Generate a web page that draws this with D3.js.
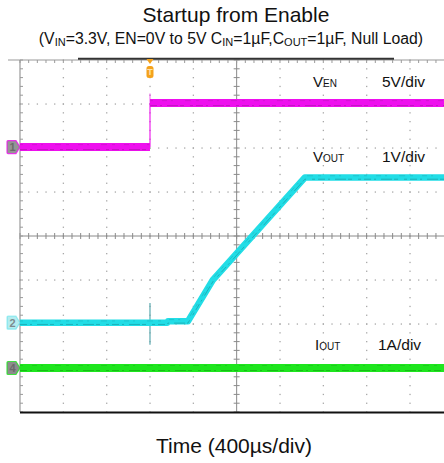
<!DOCTYPE html>
<html><head><meta charset="utf-8">
<script src="https://cdn.jsdelivr.net/npm/d3@7"></script>
<style>
html,body{margin:0;padding:0;background:#fff;}
svg{display:block;font-family:"Liberation Sans",Arial,Helvetica,sans-serif;}
</style></head><body>
<svg id="chart" width="444" height="463"></svg>
<script>
// Horizontal time base: 400 µs per division, trigger at t = 0
const timeDomain = [-1200, 2800];
const timeMajor = [-1200, -800, -400, 0, 400, 800, 1200, 1600, 2000, 2400, 2800];
const divDomain = [-4, 4];
const divMajor = [-4, -3, -2, -1, 0, 1, 2, 3, 4];

// CH1 enable voltage (V), 5 V/div
const enTime = [-1200, 0, 0, 2800];
const enVolt = [0, 0, 5, 5];
const enEdge = [0, 6.1];

// CH2 output voltage (V), 1 V/div
const outTime = [-1200, 160, 165, 350, 580, 1430, 2800];
const outVolt = [0, 0, 0.03, 0.03, 0.97, 3.3, 3.3];
const outGlitch = [0.45, -0.5];

// CH4 output current (A), 1 A/div
const curTime = [-1200, 2800];
const curAmp = [0, 0];

// Channel labels
const chNames = ["1", "2", "4"];
const chScale = [5, 1, 1];
const chGround = [2.02, -1.97, -3.0];
const chColor = ["#ee10ee", "#22dde6", "#1ee61e"];
const chShade = ["#9a189a", "#1a8c94", "#139a13"];

const svg = d3.select("#chart");
const x = d3.scaleLinear().domain(timeDomain).range([20, 453.3]);
const yd = d3.scaleLinear().domain(divDomain).range([412, 60]);
const chY = ch => v => yd(chGround[ch] + v / chScale[ch]);

const minorT = d3.range(timeDomain[0], timeDomain[1] + 1, 80);
const minorD = d3.range(-4, 4.001, 0.2).map(v => +v.toFixed(2));

// ---- graticule ----
const grid = svg.append("g");
const dotCol = "#a8a8a8";
timeMajor.filter(t => t !== timeDomain[0] && t !== 800).forEach(t => {
  grid.selectAll(null).data(minorD).join("rect")
    .attr("x", x(t) - 0.6).attr("y", d => yd(d) - 0.6)
    .attr("width", 1.3).attr("height", 1.3).attr("fill", dotCol);
});
divMajor.filter(d => d !== 0 && Math.abs(d) !== 4).forEach(d => {
  grid.selectAll(null).data(minorT).join("rect")
    .attr("x", t => x(t) - 0.6).attr("y", yd(d) - 0.6)
    .attr("width", 1.3).attr("height", 1.3).attr("fill", dotCol);
});
// centre cross with minor ticks
const axCol = "#8a8a8a";
grid.append("line").attr("x1", x(800)).attr("x2", x(800))
  .attr("y1", yd(4)).attr("y2", yd(-4)).attr("stroke", axCol).attr("stroke-width", 1);
grid.append("line").attr("x1", x(timeDomain[0])).attr("x2", 444)
  .attr("y1", yd(0)).attr("y2", yd(0)).attr("stroke", axCol).attr("stroke-width", 1);
grid.selectAll(null).data(minorD).join("line")
  .attr("x1", x(800) - 3).attr("x2", x(800) + 3)
  .attr("y1", d => yd(d)).attr("y2", d => yd(d)).attr("stroke", axCol);
grid.selectAll(null).data(minorT).join("line")
  .attr("x1", t => x(t)).attr("x2", t => x(t))
  .attr("y1", yd(0) - 3).attr("y2", yd(0) + 3).attr("stroke", axCol);

// frame: left and top edges with inward ticks, heavy bottom edge
const frameCol = "#9a9a9a";
grid.append("line").attr("x1", x(timeDomain[0])).attr("x2", x(timeDomain[0]))
  .attr("y1", yd(4)).attr("y2", yd(-4)).attr("stroke", frameCol).attr("stroke-width", 1.2);
grid.append("line").attr("x1", 8).attr("x2", 444)
  .attr("y1", yd(4)).attr("y2", yd(4)).attr("stroke", frameCol).attr("stroke-width", 1.2);
grid.selectAll(null).data(minorD).join("line")
  .attr("x1", x(timeDomain[0])).attr("x2", x(timeDomain[0]) + 3)
  .attr("y1", d => yd(d)).attr("y2", d => yd(d)).attr("stroke", frameCol);
grid.selectAll(null).data(minorT).join("line")
  .attr("x1", t => x(t)).attr("x2", t => x(t))
  .attr("y1", yd(4)).attr("y2", yd(4) + 3).attr("stroke", frameCol);
grid.append("line").attr("x1", 78).attr("x2", 394)
  .attr("y1", yd(4) - 1.2).attr("y2", yd(4) - 1.2).attr("stroke", "#333").attr("stroke-width", 2);
grid.append("line").attr("x1", x(timeDomain[0])).attr("x2", 444)
  .attr("y1", yd(-4) + 0.5).attr("y2", yd(-4) + 0.5).attr("stroke", "#111").attr("stroke-width", 2);

// ---- traces ----
const traces = svg.append("g").attr("fill", "none");
// thick persistence band with a speckled darker edge
function band(ch, pts, width) {
  const line = d3.line().x(d => x(d[0])).y(d => d[1]);
  traces.append("path").attr("d", line(pts.map(p => [p[0], chY(ch)(p[1])])))
    .attr("stroke", chColor[ch]).attr("stroke-width", width).attr("stroke-linejoin", "round");
  traces.append("path").attr("d", line(pts.map(p => [p[0], chY(ch)(p[1]) + width / 2 - 1.5])))
    .attr("stroke", chShade[ch]).attr("stroke-width", 1).attr("stroke-opacity", 0.55)
    .attr("stroke-dasharray", "7,3,2,5,11,2,4,6,3,3");
  traces.append("path").attr("d", line(pts.map(p => [p[0], chY(ch)(p[1]) - width / 2 + 1.5])))
    .attr("stroke", chShade[ch]).attr("stroke-width", 1).attr("stroke-opacity", 0.3)
    .attr("stroke-dasharray", "3,9,5,4,2,12,6,5");
}
function drawTrace(ch, times, vals, width) {
  let seg = [[times[0], vals[0]]];
  for (let i = 1; i < times.length; i++) {
    if (times[i] === times[i - 1]) {
      band(ch, seg, width);
      traces.append("line").attr("x1", x(times[i])).attr("x2", x(times[i]))
        .attr("y1", chY(ch)(vals[i - 1])).attr("y2", chY(ch)(vals[i]))
        .attr("stroke", chColor[ch]).attr("stroke-opacity", 0.45).attr("stroke-width", 1.5);
      seg = [[times[i], vals[i]]];
    } else seg.push([times[i], vals[i]]);
  }
  band(ch, seg, width);
}
// enable
drawTrace(0, enTime, enVolt, 8);
traces.append("line").attr("x1", x(0)).attr("x2", x(0))
  .attr("y1", chY(0)(enEdge[0])).attr("y2", chY(0)(enEdge[1]))
  .attr("stroke", chColor[0]).attr("stroke-opacity", 0.45).attr("stroke-width", 1.5);
// output voltage
traces.append("line").attr("x1", x(0)).attr("x2", x(0))
  .attr("y1", chY(1)(outGlitch[0])).attr("y2", chY(1)(outGlitch[1]))
  .attr("stroke", "#5aa8b0").attr("stroke-width", 1.2);
drawTrace(1, outTime, outVolt, 6.5);
// output current
drawTrace(2, curTime, curAmp, 8);

// ---- channel ground markers ----
const markers = svg.append("g");
const markFill = ["#959595", "#b4ecef", "#8c8c8c"];
const markText = ["#6a6a6a", "#7c8c8e", "#6a6a6a"];
chNames.forEach((name, ch) => {
  const cy = chY(ch)(0);
  const g = markers.append("g").attr("transform", `translate(0,${cy})`);
  g.append("path").attr("d", "M8,-6.5 L16,-6.5 L20,0 L16,6.5 L8,6.5 Q7,6.5 7,5.5 L7,-5.5 Q7,-6.5 8,-6.5 Z")
    .attr("fill", markFill[ch]).attr("stroke", chColor[ch]).attr("stroke-width", 1.2)
    .attr("stroke-opacity", ch === 1 ? 0.4 : 0.8);
  g.append("text").attr("x", 12.5).attr("y", 4).attr("text-anchor", "middle")
    .attr("font-size", 11).attr("font-weight", "bold").attr("fill", markText[ch]).text(name);
});
// trigger marker
const trig = svg.append("g").attr("transform", `translate(${x(0)},0)`);
trig.append("path").attr("d", "M-3.5,59 L3.5,59 L0,64 Z").attr("fill", "#f4a21c");
trig.append("rect").attr("x", -3.5).attr("y", 66).attr("width", 7).attr("height", 12)
  .attr("rx", 2.5).attr("fill", "#f4a21c");
trig.append("text").attr("x", 0).attr("y", 75).attr("text-anchor", "middle")
  .attr("font-size", 9).attr("font-weight", "bold").attr("fill", "#fde2b0").text("T");

// ---- texts ----
const txt = svg.append("g").attr("fill", "#111");
txt.append("text").attr("x", 236).attr("y", 22).attr("text-anchor", "middle")
  .attr("font-size", 21).text("Startup from Enable");

const sub = txt.append("text").attr("x", 231).attr("y", 44).attr("text-anchor", "middle")
  .attr("font-size", 15.8);
const subParts = [["(V", 0], ["IN", 1], ["=3.3V, EN=0V to 5V C", 0], ["IN", 1], ["=1µF,C", 0],
                  ["OUT", 1], ["=1µF, Null Load)", 0]];
subParts.forEach(([s, small], i) => {
  const prev = i > 0 ? subParts[i - 1][1] : 0;
  const ts = sub.append("tspan").text(s)
    .attr("dy", small && !prev ? 1.5 : (!small && prev ? -1.5 : 0));
  if (small) ts.attr("font-size", 11);
});

function chLabel(x0, y0, big, small, scaleText, x1) {
  const t = txt.append("text").attr("x", x0).attr("y", y0).attr("font-size", 15);
  t.append("tspan").text(big);
  t.append("tspan").attr("font-size", 10).text(small);
  txt.append("text").attr("x", x1).attr("y", y0).attr("font-size", 15.5).text(scaleText);
}
chLabel(313, 87, "V", "EN", "5V/div", 382);
chLabel(313, 162, "V", "OUT", "1V/div", 382);
chLabel(315, 350, "I", "OUT", "1A/div", 378);

txt.append("text").attr("x", 234).attr("y", 453).attr("text-anchor", "middle")
  .attr("font-size", 21).text("Time (400µs/div)");
</script>
</body></html>
